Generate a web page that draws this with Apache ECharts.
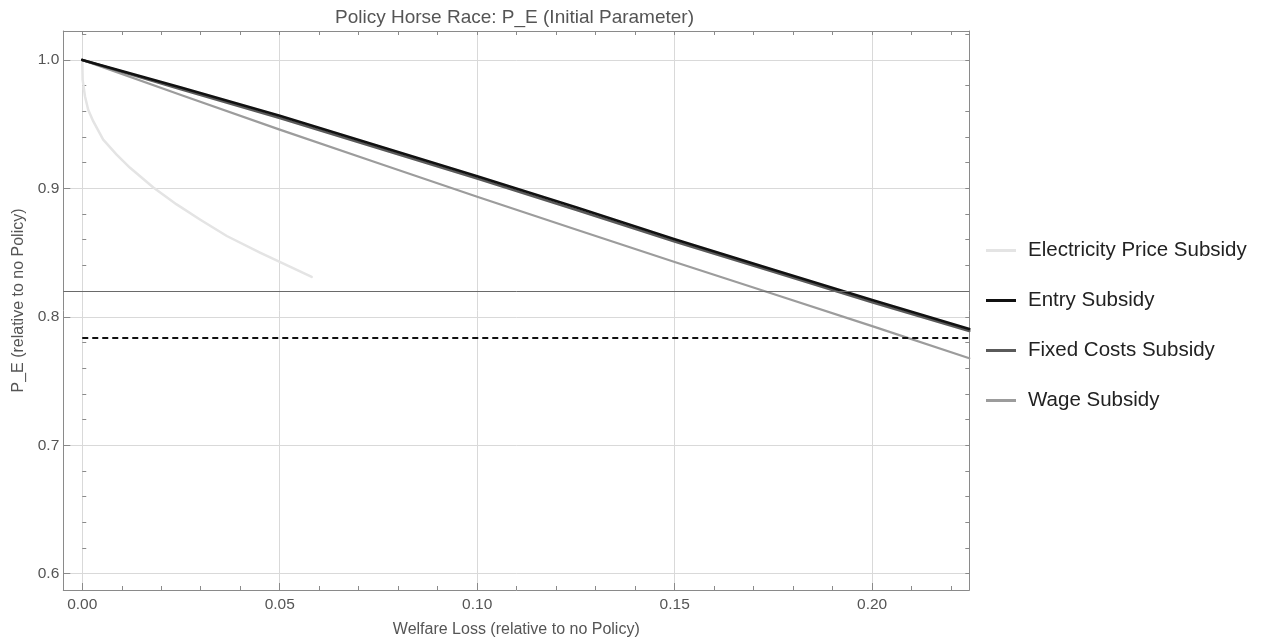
<!DOCTYPE html>
<html>
<head>
<meta charset="utf-8">
<title>Policy Horse Race: P_E (Initial Parameter)</title>
<script src="https://cdn.jsdelivr.net/npm/echarts@6/dist/echarts.min.js"></script>
<style>
  html, body { margin: 0; padding: 0; background: #fff; }
  #chart { width: 1262px; height: 643px; }
</style>
</head>
<body>
<div id="chart"></div>
<script>
// Welfare loss (x) against P_E (y), both relative to the no-policy case
const electricityX = [0, 0.0001, 0.0007, 0.0015, 0.0028, 0.0053, 0.0087, 0.0121, 0.018, 0.0239, 0.0298, 0.0366, 0.045, 0.05, 0.0581];
const electricityY = [1.0, 0.9845, 0.9715, 0.9612, 0.9521, 0.9379, 0.9263, 0.916, 0.9006, 0.8875, 0.8758, 0.8629, 0.85, 0.8427, 0.831];

const policyX = [0, 0.025, 0.05, 0.075, 0.10, 0.125, 0.15, 0.175, 0.20, 0.2246];
const entryY = [1.0, 0.9785, 0.9565, 0.933, 0.9094, 0.8852, 0.8603, 0.8367, 0.813, 0.7905];
const fixedCostsY = [1.0, 0.9772, 0.9548, 0.9313, 0.9076, 0.8834, 0.8586, 0.835, 0.8114, 0.789];
const wageY = [1.0, 0.9727, 0.9457, 0.9195, 0.8934, 0.868, 0.8427, 0.8177, 0.7927, 0.7677];

// Reference levels
const referenceLevel = 0.8215;
const dashedLevel = 0.7835;

// Axis ranges and tick positions
const xRange = [-0.0048, 0.2246];
const yRange = [0.5873, 1.0225];
const xMajorTicks = [0, 0.05, 0.10, 0.15, 0.20];
const xMinorTicks = [0.01, 0.02, 0.03, 0.04, 0.06, 0.07, 0.08, 0.09, 0.11, 0.12, 0.13, 0.14, 0.16, 0.17, 0.18, 0.19, 0.21, 0.22];
const xTopTicks = [0, 0.01, 0.02, 0.03, 0.04, 0.05, 0.06, 0.07, 0.08, 0.09, 0.10, 0.11, 0.12, 0.13, 0.14, 0.15, 0.16, 0.17, 0.18, 0.19, 0.20, 0.21, 0.22];
const yMajorTicks = [0.6, 0.7, 0.8, 0.9, 1.0];
const yMinorTicks = [0.62, 0.64, 0.66, 0.68, 0.72, 0.74, 0.76, 0.78, 0.82, 0.84, 0.86, 0.88, 0.92, 0.94, 0.96, 0.98, 1.02];
const yRightTicks = [0.6, 0.62, 0.64, 0.66, 0.68, 0.7, 0.72, 0.74, 0.76, 0.78, 0.8, 0.82, 0.84, 0.86, 0.88, 0.9, 0.92, 0.94, 0.96, 0.98, 1.0, 1.02];

const seriesNames = ['Electricity Price Subsidy', 'Entry Subsidy', 'Fixed Costs Subsidy', 'Wage Subsidy'];
const seriesColors = ['#e4e4e4', '#111111', '#5a5a5a', '#9c9c9c'];

const pairs = (xs, ys) => xs.map((x, i) => [x, ys[i]]);

const FONT = "'Liberation Sans', Arial, sans-serif";
const FRAME = '#8a8a8a';
const GRIDLINE = '#d9d9d9';
const TEXT = '#555555';

function xAxisBase(extra) {
  return Object.assign({
    type: 'value', gridIndex: 0, min: xRange[0], max: xRange[1],
    axisLine: { show: false },
    axisTick: { show: false },
    axisLabel: { show: false },
    splitLine: { show: false }
  }, extra);
}
function yAxisBase(extra) {
  return Object.assign({
    type: 'value', gridIndex: 0, min: yRange[0], max: yRange[1],
    axisLine: { show: false },
    axisTick: { show: false },
    axisLabel: { show: false },
    splitLine: { show: false }
  }, extra);
}

const chart = echarts.init(document.getElementById('chart'), null, { renderer: 'canvas' });

function lineSeries(idx, xs, ys, width, z) {
  return {
    name: seriesNames[idx], type: 'line', xAxisIndex: 0, yAxisIndex: 0,
    data: pairs(xs, ys), showSymbol: false, symbol: 'none',
    smooth: false,
    z: z,
    lineStyle: { color: seriesColors[idx], width: width, join: 'round', cap: 'round' },
    itemStyle: { color: seriesColors[idx] }
  };
}

const option = {
  animation: false,
  backgroundColor: '#ffffff',
  title: {
    text: 'Policy Horse Race: P_E (Initial Parameter)',
    left: 335, top: 8, padding: 0,
    textStyle: { fontFamily: FONT, fontSize: 19, fontWeight: 'normal', color: TEXT }
  },
  legend: {
    orient: 'vertical', left: 986, top: 240, padding: 0,
    itemWidth: 30, itemHeight: 3, itemGap: 29,
    icon: 'rect',
    data: seriesNames,
    textStyle: { fontFamily: FONT, fontSize: 20.5, color: '#222222', lineHeight: 20, padding: [0, 0, 0, 7] }
  },
  grid: { left: 63.3, right: 292.7, top: 31, bottom: 51.3, containLabel: false },
  xAxis: [
    xAxisBase({
      position: 'bottom',
      name: 'Welfare Loss (relative to no Policy)', nameLocation: 'middle', nameGap: 32,
      nameTextStyle: { fontFamily: FONT, fontSize: 16, color: TEXT },
      axisLine: { show: true, onZero: false, lineStyle: { color: FRAME, width: 1 } },
      axisTick: { show: true, inside: true, length: 7, customValues: xMajorTicks, lineStyle: { color: FRAME } },
      axisLabel: { show: true, customValues: xMajorTicks, margin: 7, fontFamily: FONT, fontSize: 15.5, color: TEXT,
                   formatter: v => v.toFixed(2) },
      splitLine: { show: true, lineStyle: { color: GRIDLINE, width: 1 } }
    }),
    xAxisBase({
      position: 'bottom',
      axisTick: { show: true, inside: true, length: 4, customValues: xMinorTicks, lineStyle: { color: FRAME } }
    }),
    xAxisBase({
      position: 'top',
      axisLine: { show: true, onZero: false, lineStyle: { color: FRAME, width: 1 } },
      axisTick: { show: true, inside: true, length: 4, customValues: xTopTicks, lineStyle: { color: FRAME } }
    })
  ],
  yAxis: [
    yAxisBase({
      position: 'left',
      name: 'P_E (relative to no Policy)', nameLocation: 'middle', nameGap: 34,
      nameTextStyle: { fontFamily: FONT, fontSize: 16, color: TEXT, padding: [0, 0, 0, 20] },
      axisLine: { show: true, onZero: false, lineStyle: { color: FRAME, width: 1 } },
      axisTick: { show: true, inside: true, length: 7, customValues: yMajorTicks, lineStyle: { color: FRAME } },
      axisLabel: { show: true, customValues: yMajorTicks, margin: 4, fontFamily: FONT, fontSize: 15.5, color: TEXT,
                   formatter: v => v.toFixed(1) },
      splitLine: { show: true, lineStyle: { color: GRIDLINE, width: 1 } }
    }),
    yAxisBase({
      position: 'left',
      axisTick: { show: true, inside: true, length: 4, customValues: yMinorTicks, lineStyle: { color: FRAME } }
    }),
    yAxisBase({
      position: 'right',
      axisLine: { show: true, onZero: false, lineStyle: { color: FRAME, width: 1 } },
      axisTick: { show: true, inside: true, length: 4, customValues: yRightTicks, lineStyle: { color: FRAME } }
    })
  ],
  series: [
    lineSeries(0, electricityX, electricityY, 2.5, 2),
    lineSeries(1, policyX, entryY, 2.6, 4),
    lineSeries(2, policyX, fixedCostsY, 2.6, 3),
    Object.assign(lineSeries(3, policyX, wageY, 2.2, 2), {
      markLine: {
        silent: true, symbol: 'none', animation: false,
        label: { show: false },
        emphasis: { disabled: true },
        data: [
          { yAxis: referenceLevel, lineStyle: { color: '#6a6a6a', width: 1, type: 'solid' } },
          [
            { coord: [0, dashedLevel], lineStyle: { color: '#111111', width: 2, type: [6, 4] } },
            { coord: [xRange[1], dashedLevel] }
          ]
        ]
      }
    })
  ]
};

chart.setOption(option);
</script>
</body>
</html>
